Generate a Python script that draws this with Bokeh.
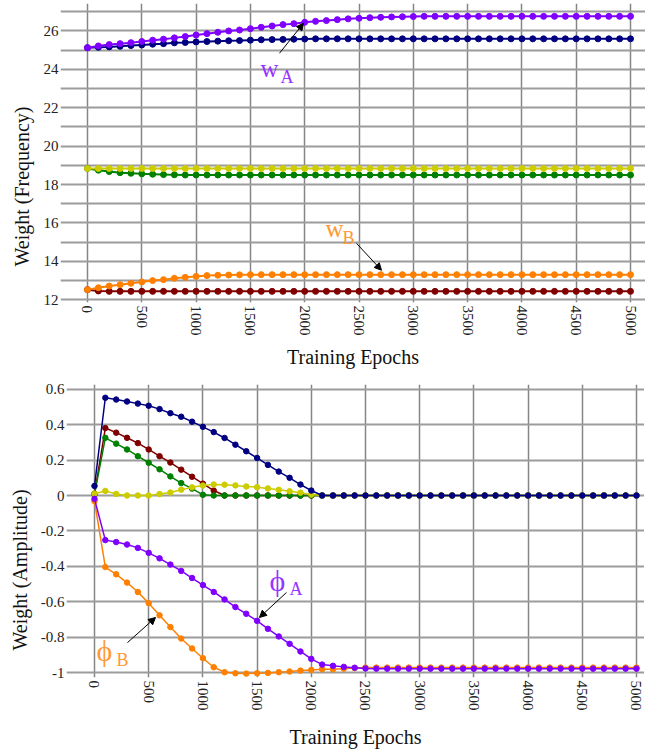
from bokeh.plotting import figure
from bokeh.models import FixedTicker, Label, Arrow, NormalHead, Range1d, Title
from bokeh.embed import file_html
from bokeh.resources import INLINE

# ---------------- data ----------------
epochs = list(range(0, 5001, 100))
x_ticks = [0, 500, 1000, 1500, 2000, 2500, 3000, 3500, 4000, 4500, 5000]

freq_ticks = [12, 14, 16, 18, 20, 22, 24, 26]
freq_minor = [13, 15, 17, 19, 21, 23, 25, 27]
amp_ticks = [-1, -0.8, -0.6, -0.4, -0.2, 0, 0.2, 0.4, 0.6]
amp_labels = ["-1", "-0.8", "-0.6", "-0.4", "-0.2", "0", "0.2", "0.4", "0.6"]

# top panel: weights (frequency)
freq_purple = [25.13, 25.22, 25.29, 25.34, 25.39, 25.45, 25.52, 25.57, 25.64, 25.71,
               25.79, 25.86, 25.93, 26.00, 26.05, 26.12, 26.19, 26.26, 26.33, 26.38,
               26.45, 26.50, 26.54, 26.59, 26.63, 26.66, 26.69, 26.71, 26.73, 26.74,
               26.75, 26.76, 26.76, 26.76, 26.76, 26.76, 26.76, 26.76, 26.76, 26.76,
               26.76, 26.76, 26.76, 26.76, 26.76, 26.76, 26.76, 26.76, 26.76, 26.76, 26.76]
freq_navy = [25.13, 25.15, 25.17, 25.20, 25.24, 25.27, 25.31, 25.34, 25.38, 25.40,
             25.43, 25.45, 25.47, 25.49, 25.50, 25.52, 25.54, 25.55, 25.56, 25.57,
             25.58, 25.59, 25.59, 25.59, 25.59, 25.59, 25.59, 25.59, 25.59, 25.59,
             25.59, 25.59, 25.59, 25.59, 25.59, 25.59, 25.59, 25.59, 25.59, 25.59,
             25.59, 25.59, 25.59, 25.59, 25.59, 25.59, 25.59, 25.59, 25.59, 25.59, 25.59]
freq_yellow = [18.84, 18.84, 18.84, 18.84, 18.84, 18.84, 18.84, 18.84, 18.84, 18.84,
               18.84, 18.84, 18.84, 18.84, 18.84, 18.84, 18.84, 18.84, 18.84, 18.84,
               18.84, 18.84, 18.84, 18.84, 18.84, 18.84, 18.84, 18.84, 18.84, 18.84,
               18.84, 18.84, 18.84, 18.84, 18.84, 18.84, 18.84, 18.84, 18.84, 18.84,
               18.84, 18.84, 18.84, 18.84, 18.84, 18.84, 18.84, 18.84, 18.84, 18.84, 18.84]
freq_green = [18.84, 18.75, 18.68, 18.62, 18.59, 18.56, 18.54, 18.52, 18.51, 18.50,
              18.50, 18.50, 18.50, 18.50, 18.50, 18.50, 18.50, 18.50, 18.50, 18.50,
              18.50, 18.50, 18.50, 18.50, 18.50, 18.50, 18.50, 18.50, 18.50, 18.50,
              18.50, 18.50, 18.50, 18.50, 18.50, 18.50, 18.50, 18.50, 18.50, 18.50,
              18.50, 18.50, 18.50, 18.50, 18.50, 18.50, 18.50, 18.50, 18.50, 18.50, 18.50]
freq_orange = [12.53, 12.63, 12.72, 12.79, 12.86, 12.93, 13.00, 13.05, 13.12, 13.17,
               13.22, 13.26, 13.28, 13.29, 13.30, 13.31, 13.31, 13.31, 13.31, 13.31,
               13.31, 13.31, 13.31, 13.31, 13.31, 13.31, 13.31, 13.31, 13.31, 13.31,
               13.31, 13.31, 13.31, 13.31, 13.31, 13.31, 13.31, 13.31, 13.31, 13.31,
               13.31, 13.31, 13.31, 13.31, 13.31, 13.31, 13.31, 13.31, 13.31, 13.31, 13.31]
freq_dred = [12.53, 12.46, 12.44, 12.44, 12.44, 12.44, 12.44, 12.44, 12.44, 12.44,
             12.44, 12.44, 12.44, 12.44, 12.44, 12.44, 12.44, 12.44, 12.44, 12.44,
             12.44, 12.44, 12.44, 12.44, 12.44, 12.44, 12.44, 12.44, 12.44, 12.44,
             12.44, 12.44, 12.44, 12.44, 12.44, 12.44, 12.44, 12.44, 12.44, 12.44,
             12.44, 12.44, 12.44, 12.44, 12.44, 12.44, 12.44, 12.44, 12.44, 12.44, 12.44]

# bottom panel: weights (amplitude)
amp_navy = [0.054, 0.552, 0.542, 0.531, 0.519, 0.507, 0.488, 0.465, 0.445, 0.417,
            0.388, 0.358, 0.325, 0.287, 0.250, 0.212, 0.173, 0.135, 0.100, 0.062,
            0.028, 0, 0, 0, 0, 0, 0, 0, 0, 0,
            0, 0, 0, 0, 0, 0, 0, 0, 0, 0,
            0, 0, 0, 0, 0, 0, 0, 0, 0, 0, 0]
amp_dred = [0.010, 0.381, 0.355, 0.326, 0.296, 0.260, 0.222, 0.186, 0.146, 0.106,
            0.067, 0.028, 0, 0, 0, 0, 0, 0, 0, 0,
            0, 0, 0, 0, 0, 0, 0, 0, 0, 0,
            0, 0, 0, 0, 0, 0, 0, 0, 0, 0,
            0, 0, 0, 0, 0, 0, 0, 0, 0, 0, 0]
amp_green = [0.006, 0.326, 0.293, 0.260, 0.222, 0.185, 0.148, 0.108, 0.070, 0.039,
             0.004, 0, 0, 0, 0, 0, 0, 0, 0, 0,
             0, 0, 0, 0, 0, 0, 0, 0, 0, 0,
             0, 0, 0, 0, 0, 0, 0, 0, 0, 0,
             0, 0, 0, 0, 0, 0, 0, 0, 0, 0, 0]
amp_yellow = [0.010, 0.026, 0.009, 0.000, 0.000, 0.000, 0.008, 0.017, 0.033, 0.046,
              0.056, 0.062, 0.061, 0.057, 0.051, 0.047, 0.040, 0.032, 0.024, 0.016,
              0.005, 0, 0, 0, 0, 0, 0, 0, 0, 0,
              0, 0, 0, 0, 0, 0, 0, 0, 0, 0,
              0, 0, 0, 0, 0, 0, 0, 0, 0, 0, 0]
amp_purple = [-0.019, -0.252, -0.263, -0.277, -0.296, -0.324, -0.355, -0.390, -0.426, -0.466,
              -0.506, -0.545, -0.587, -0.630, -0.668, -0.708, -0.753, -0.796, -0.838, -0.881,
              -0.923, -0.955, -0.962, -0.968, -0.973, -0.977, -0.978, -0.978, -0.978, -0.978,
              -0.978, -0.978, -0.978, -0.978, -0.978, -0.978, -0.978, -0.978, -0.978, -0.978,
              -0.978, -0.978, -0.978, -0.978, -0.978, -0.978, -0.978, -0.978, -0.978, -0.978, -0.978]
amp_orange = [-0.032, -0.404, -0.445, -0.492, -0.545, -0.608, -0.677, -0.743, -0.808, -0.864,
              -0.919, -0.970, -0.998, -1.004, -1.006, -1.004, -1.002, -0.998, -0.994, -0.989,
              -0.985, -0.981, -0.982, -0.978, -0.975, -0.972, -0.972, -0.972, -0.972, -0.972,
              -0.972, -0.972, -0.972, -0.972, -0.972, -0.972, -0.972, -0.972, -0.972, -0.972,
              -0.972, -0.972, -0.972, -0.972, -0.972, -0.972, -0.972, -0.972, -0.972, -0.972, -0.972]

# ---------------- style ----------------
FONT = "Liberation Serif"
NAVY, PURPLE, YELLOW = "#000080", "#8000ff", "#cccc00"
GREEN, ORANGE, DRED = "#008000", "#ff8000", "#800000"
TXT_PURPLE, TXT_ORANGE = "#9933ff", "#ff9933"
HGRID, VGRID = "#9c9c9c", "#858585"


def base_style(p, label_standoff):
    p.outline_line_color = None
    p.background_fill_color = "white"
    p.border_fill_color = "white"
    for ax in [p.xaxis[0], p.yaxis[0]]:
        ax.axis_line_color = None
        ax.major_tick_line_color = None
        ax.minor_tick_line_color = None
        ax.major_tick_out = 0
        ax.major_tick_in = 0
        ax.minor_tick_out = 0
        ax.minor_tick_in = 0
        ax.major_label_text_font = FONT
        ax.major_label_text_font_size = "15px"
        ax.major_label_text_color = "#222222"
        ax.axis_label_text_font = FONT
        ax.axis_label_text_font_size = "20px"
        ax.axis_label_text_font_style = "normal"
        ax.axis_label_text_color = "#111111"
    p.xaxis.ticker = FixedTicker(ticks=x_ticks)
    p.xaxis.major_label_orientation = "vertical"
    p.xaxis.major_label_standoff = 3
    p.xaxis.axis_label = "Training Epochs"
    p.xaxis.axis_label_standoff = label_standoff
    p.yaxis.major_label_standoff = 2
    p.yaxis.axis_label_standoff = 0
    p.xgrid.ticker = FixedTicker(ticks=x_ticks)
    p.xgrid.grid_line_color = VGRID
    p.xgrid.grid_line_width = 1.5
    p.ygrid.grid_line_color = HGRID
    p.ygrid.grid_line_width = 2


def ylabel(p, text, offset, standoff):
    p.add_layout(Title(text=text, align="left", offset=offset, standoff=standoff,
                       text_font=FONT, text_font_size="20px", text_font_style="normal",
                       text_color="#111111"), "left")


def series(p, ys, color, lw, size):
    p.line(epochs, ys, line_color=color, line_width=lw)
    p.scatter(epochs, ys, size=size, fill_color=color, line_color=color)


def sub_label(p, x, y, main, sub, sx, sy, color, main_size, sub_size):
    p.add_layout(Label(x=x, y=y, text=main, text_font=FONT, text_font_size=main_size,
                       text_color=color, text_baseline="alphabetic", text_align="left"))
    p.add_layout(Label(x=sx, y=sy, text=sub, text_font=FONT, text_font_size=sub_size,
                       text_color=color, text_baseline="alphabetic", text_align="left"))


def arrow(p, x0, y0, x1, y1):
    p.add_layout(Arrow(x_start=x0, y_start=y0, x_end=x1, y_end=y1, line_color="black",
                       line_width=1,
                       end=NormalHead(size=7, fill_color="black", line_color="black",
                                      line_width=1)))


# ---------------- top: frequency ----------------
p1 = figure(frame_width=585, frame_height=299, x_range=Range1d(-248.6, 5138),
            y_range=Range1d(11.86, 27.43), output_backend="svg", toolbar_location=None,
            min_border_left=52, min_border_right=0, min_border_top=3, min_border_bottom=0)
base_style(p1, 7)
p1.yaxis.ticker = FixedTicker(ticks=freq_ticks, minor_ticks=freq_minor)
p1.ygrid.ticker = FixedTicker(ticks=freq_ticks, minor_ticks=freq_minor)
p1.ygrid.minor_grid_line_color = HGRID
p1.ygrid.minor_grid_line_width = 2
ylabel(p1, "Weight (Frequency)", 36, 16)

for ys, c in [(freq_dred, DRED), (freq_green, GREEN), (freq_yellow, YELLOW),
              (freq_navy, NAVY), (freq_orange, ORANGE), (freq_purple, PURPLE)]:
    series(p1, ys, c, 2, 6)

sub_label(p1, 1593, 24.02, "w", "A", 1777, 23.62, TXT_PURPLE, "25px", "18px")
arrow(p1, 1768, 24.84, 1989, 26.40)
sub_label(p1, 2192, 15.70, "w", "B", 2348, 15.22, TXT_ORANGE, "25px", "18px")
arrow(p1, 2477, 14.94, 2707, 13.54)

# ---------------- bottom: amplitude ----------------
p2 = figure(frame_width=578, frame_height=293, x_range=Range1d(-258.3, 5074),
            y_range=Range1d(-1.028, 0.627), output_backend="svg", toolbar_location=None,
            min_border_left=59, min_border_right=0, min_border_top=14, min_border_bottom=0)
base_style(p2, 12)
p2.yaxis.ticker = FixedTicker(ticks=amp_ticks)
p2.ygrid.ticker = FixedTicker(ticks=amp_ticks)
p2.yaxis.major_label_overrides = dict(zip(amp_ticks, amp_labels))
ylabel(p2, "Weight (Amplitude)", 27, 13)

for ys, c in [(amp_dred, DRED), (amp_green, GREEN), (amp_yellow, YELLOW),
              (amp_navy, NAVY), (amp_orange, ORANGE), (amp_purple, PURPLE)]:
    series(p2, ys, c, 1.5, 5.5)

sub_label(p2, 1614, -0.48, "\u03d5", "A", 1799, -0.53, TXT_PURPLE, "30px", "18px")
arrow(p2, 1771, -0.548, 1522, -0.689)
sub_label(p2, 18, -0.875, "\u03d5", "B", 203, -0.93, TXT_ORANGE, "30px", "18px")
arrow(p2, 304, -0.831, 563, -0.689)

open("out.html", "w").write(file_html([p1, p2], INLINE))
